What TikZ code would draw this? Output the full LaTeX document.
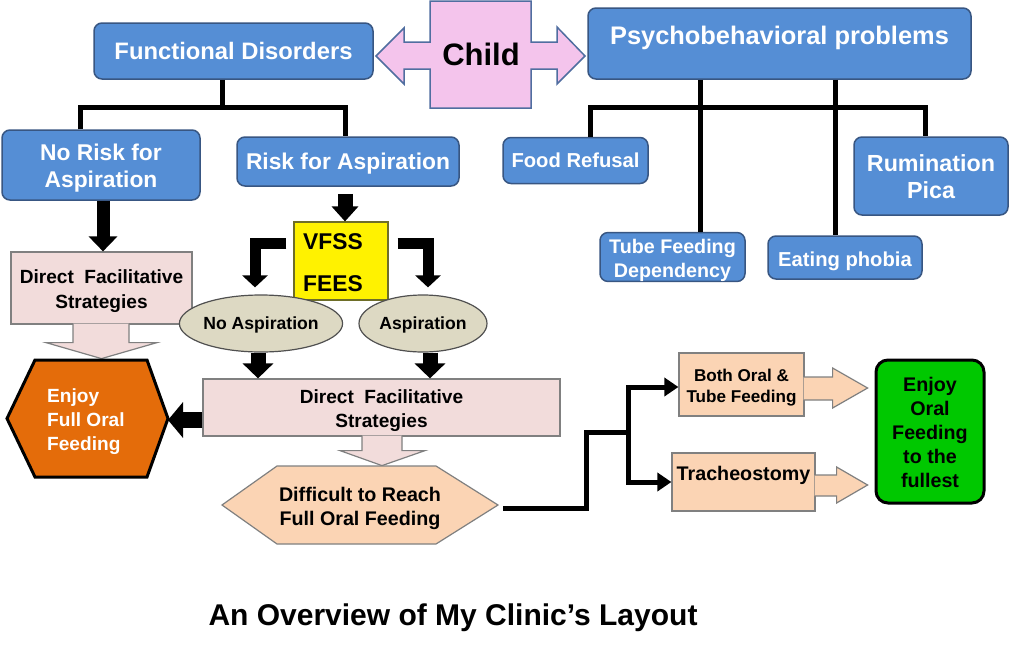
\documentclass[tikz,border=0pt]{standalone}
\usepackage{fontspec}
\setmainfont{Liberation Sans}
\usetikzlibrary{arrows.meta,shapes.geometric}
\definecolor{bluefill}{RGB}{85,142,213}
\definecolor{bluedraw}{RGB}{56,86,130}
\definecolor{pinkfill}{RGB}{242,220,219}
\definecolor{graydraw}{RGB}{128,128,128}
\definecolor{crossfill}{RGB}{244,196,236}
\definecolor{crossdraw}{RGB}{80,110,160}
\definecolor{tanfill}{RGB}{221,217,195}
\definecolor{tandraw}{RGB}{80,80,80}
\definecolor{orangefill}{RGB}{228,108,10}
\definecolor{peachfill}{RGB}{251,212,180}
\definecolor{greenfill}{RGB}{0,200,0}
\definecolor{yellowdraw}{RGB}{110,110,40}
\newcommand\myfs[2]{\fontsize{#1}{#2}\selectfont}
\newcommand\pstrut{\rule[-0.212em]{0pt}{1.117em}}
\newcommand\mytop{\rule{0pt}{\dimexpr0.75em+6pt\relax}}
\begin{document}
\begin{tikzpicture}[x=1pt,y=-1pt,
 txt/.style={execute at begin node=\pstrut,execute at end node=\pstrut},
 bluebox/.style={txt,draw=bluedraw,fill=bluefill,line width=1.5pt,rounded corners=8pt,text=white,align=center,inner sep=0pt},
 pinkbox/.style={txt,draw=graydraw,fill=pinkfill,line width=1.2pt,align=center,inner sep=0pt},
 peachbox/.style={txt,draw=graydraw,fill=peachfill,line width=1.2pt,align=center,inner sep=0pt},
 ellbox/.style={txt,ellipse,draw=tandraw,fill=tanfill,line width=1.2pt,inner sep=0pt,font=\bfseries\myfs{17.6}{21}},
 tree/.style={line width=5pt,line join=miter},
 bigarr/.style 2 args={line width=#1,-{Triangle[width=#2,length=15pt]}},
 elbarr/.style={line width=11pt,line join=miter,-{Triangle[width=25pt,length=12pt]}},
 oarrowpink/.style={fill=pinkfill,draw=graydraw,line width=1.2pt,line join=miter},
 oarrowpeach/.style={fill=peachfill,draw=graydraw,line width=1.2pt,line join=miter},
 thinarr/.style={line width=5pt,line join=miter,-{Triangle[width=18pt,length=14pt]}}
]
\useasboundingbox (0,0) rectangle (1010,651);
\fill[white] (0,0) rectangle (1010,651);

% Child cross
\filldraw[fill=crossfill,draw=crossdraw,line width=1.5pt,line join=miter]
 (430,1) -- (531,1) -- (531,42) -- (557,42) -- (557,27) -- (585,56) -- (557,84) -- (557,69) -- (531,69) -- (531,108)
 -- (430,108) -- (430,69) -- (404,69) -- (404,84) -- (376,56) -- (404,28) -- (404,42) -- (430,42) -- cycle;
\node[txt,font=\bfseries\myfs{31}{36}] (child) at (481,55) {Child};

% top boxes
\node[bluebox,minimum width=279pt,minimum height=56pt,font=\bfseries\myfs{23.8}{28}] (fd) at (233.5,51) {Functional Disorders};
\node[bluebox,minimum width=383pt,minimum height=71pt,font=\bfseries\myfs{25.4}{30}] (psy) at (779.5,43.5) {Psychobehavioral problems\rule[-20.4pt]{0pt}{1pt}};

\node[bluebox,minimum width=198pt,minimum height=70pt,font=\bfseries\myfs{22.8}{27}] (norisk) at (101,165) {\mytop No Risk for\\Aspiration};
\node[bluebox,minimum width=222pt,minimum height=49pt,font=\bfseries\myfs{22.8}{27}] (risk) at (348,161.5) {Risk for Aspiration};

\node[bluebox,minimum width=145pt,minimum height=46pt,font=\bfseries\myfs{20.2}{24}] (food) at (575.5,160.5) {Food Refusal};
\node[bluebox,minimum width=154pt,minimum height=78pt,font=\bfseries\myfs{23.3}{27}] (rum) at (931,176) {\mytop Rumination\\Pica};
\node[bluebox,minimum width=145pt,minimum height=48pt,font=\bfseries\myfs{19.7}{24}] (tube) at (672.5,257) {\mytop Tube Feeding\\Dependency};
\node[bluebox,minimum width=154pt,minimum height=43pt,font=\bfseries\myfs{20.2}{24}] (eat) at (845,257.5) {\rule{0pt}{\dimexpr0.905em+3pt\relax}Eating phobia};

% trees
\draw[tree] ([xshift=-11pt]fd.south) -- ++(0,28) coordinate (fdj);
\draw[tree] ([xshift=-21pt]norisk.north) |- (fdj) -| ([xshift=-3pt]risk.north);
\draw[tree] ([xshift=14.5pt]food.north) -- ++(0,-29.5) -| ([xshift=-6pt]rum.north);
\draw[tree] ([xshift=-79.5pt]psy.south) -- ([xshift=27.5pt]tube.north);
\draw[tree] ([xshift=55.5pt]psy.south) -- ([xshift=-10pt]eat.north);

% left column
\node[pinkbox,minimum width=181pt,minimum height=72pt,font=\bfseries\myfs{19.1}{25}] (dfs1) at (101.5,288) {\mytop Direct\hspace{0.55em}Facilitative\\Strategies};
\draw[bigarr={13pt}{28pt}] ([xshift=2pt]norisk.south) -- ([xshift=1.5pt]dfs1.north);
\filldraw[oarrowpink] ([shift={(-28.5,-1)}]dfs1.south) -- ++(0,19) -- ++(-27,0) -- ++(55.5,16) -- ++(55.5,-16) -- ++(-28,0) -- ++(0,-19);

% orange hexagon
\filldraw[fill=orangefill,draw=black,line width=3pt,line join=miter]
 (7,418.5) -- (35,360) -- (147,360) -- (168,418.5) -- (147,477) -- (35,477) -- cycle;
\coordinate (hexR) at (168,418.5);
\node[txt,anchor=west,align=left,inner sep=0pt,text=white,font=\bfseries\myfs{19.1}{24}] (enjoy) at (47,418) {\mytop Enjoy\\Full Oral\\Feeding};

% VFSS
\node[txt,draw=yellowdraw,fill=yellow,line width=1.2pt,minimum width=94pt,minimum height=78pt,inner sep=0pt,align=left,font=\bfseries\myfs{22.8}{42}] (vfss) at (341,261) {\mytop VFSS\hspace*{16pt}\\FEES};
\draw[bigarr={15pt}{26pt}] ([shift={(-3,7)}]risk.south) -- ([xshift=4pt]vfss.north);

\node[ellbox,minimum width=135pt,minimum height=57pt] (noasp) at (261,323.5) {No Aspiration};
\node[ellbox,minimum width=128pt,minimum height=57pt] (asp) at (423,323.5) {Aspiration};
\draw[elbarr] ([shift={(-7,-18)}]vfss.west) -| ([shift={(-6,-7)}]noasp.north);
\draw[elbarr] ([shift={(9,-18)}]vfss.east) -| ([shift={(5,-7)}]asp.north);

% middle DFS
\node[pinkbox,minimum width=357pt,minimum height=57pt,font=\bfseries\myfs{19.1}{24}] (dfs2) at (381.5,407.5) {\mytop Direct\hspace{0.55em}Facilitative\\Strategies};
\draw[bigarr={15pt}{30pt}] ([xshift=-3pt]noasp.south) -- ([xshift=-123.5pt]dfs2.north);
\draw[bigarr={15pt}{30pt}] ([xshift=7pt]asp.south) -- ([xshift=48.5pt]dfs2.north);
\coordinate (a1) at ([yshift=-12.5pt]dfs2.west);
\draw[bigarr={16pt}{35pt}] (a1) -- (a1 -| hexR);
\filldraw[oarrowpink] ([shift={(-19.5,-1)}]dfs2.south) -- ++(0,15) -- ++(-22,0) -- ++(42,15) -- ++(43,-15) -- ++(-23,0) -- ++(0,-15);

% difficult hexagon
\filldraw[fill=peachfill,draw=graydraw,line width=1.2pt,line join=miter]
 (222,505) -- (277,466) -- (436,466) -- (498,505) -- (436,544) -- (277,544) -- cycle;
\coordinate (diffR) at (498,505);
\node[txt,align=center,inner sep=0pt,font=\bfseries\myfs{19.7}{24}] (diff) at (360,505) {\mytop Difficult to Reach\\Full Oral Feeding};

% right part
\node[peachbox,minimum width=125pt,minimum height=63pt,font=\bfseries\myfs{17.1}{21}] (both) at (741.5,384.5) {\mytop Both Oral \&\\Tube Feeding};
\node[peachbox,minimum width=143pt,minimum height=58pt,font=\bfseries\myfs{19.7}{24}] (trach) at (743.5,482) {Tracheostomy\rule[-21.7pt]{0pt}{1pt}};
\coordinate (junc) at (628,432);
\draw[tree] ([shift={(5,3)}]diffR) -| (586,432) -- (junc);
\draw[thinarr] (junc) |- ([yshift=-2.5pt]both.west);
\draw[thinarr] (junc) |- (trach.west);

\node[txt,draw=black,fill=greenfill,line width=3pt,rounded corners=12pt,minimum width=108pt,minimum height=143pt,inner sep=0pt,align=center,font=\bfseries\myfs{19.7}{24}] (final) at (930,431.5) {\mytop Enjoy\\Oral\\Feeding\\to the\\fullest};
\filldraw[oarrowpeach] ([shift={(-1,-7.5)}]both.east) -- ++(29,0) -- ++(0,-9) -- ++(35,20) -- ++(-35,20) -- ++(0,-8) -- ++(-29,0);
\filldraw[oarrowpeach] ([shift={(-1,-7)}]trach.east) -- ++(22,0) -- ++(0,-8) -- ++(31,18) -- ++(-31,18) -- ++(0,-7) -- ++(-22,0);

% title
\node[txt,font=\bfseries\myfs{30}{35}] (title) at (453,615) {An Overview of My Clinic’s Layout};
\end{tikzpicture}
\end{document}
